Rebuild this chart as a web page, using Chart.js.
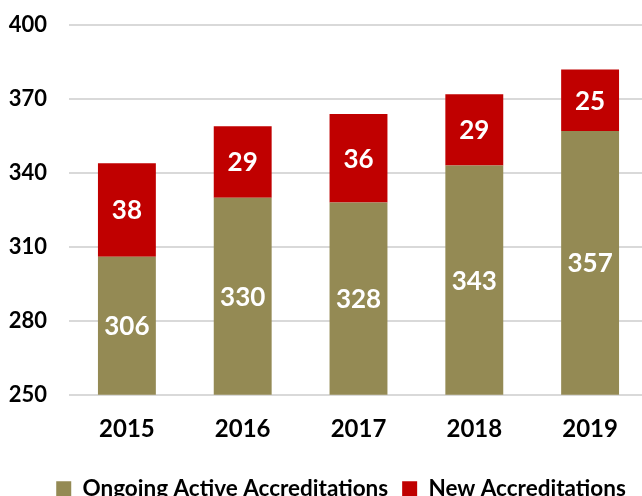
<!DOCTYPE html>
<html>
<head>
<meta charset="utf-8">
<script src="https://cdn.jsdelivr.net/npm/chart.js@4/dist/chart.umd.min.js"></script>
<style>
  html, body { margin: 0; padding: 0; background: #fff; overflow: hidden; }
  /* chart is a bit bigger than the window, the legend gets clipped at the bottom like the original */
  #wrap { width: 648px; height: 520px; margin-top: -10px; }
</style>
</head>
<body>
<div id="wrap"><canvas id="chart"></canvas></div>
<script>
// Chart data
const years = ['2015', '2016', '2017', '2018', '2019'];
const ongoingActive = [306, 330, 328, 343, 357];
const newAccreditations = [38, 29, 36, 29, 25];
const yTicks = [250, 280, 310, 340, 370, 400];

const FONT = 'Lato';

// Draw white value labels in the middle of each bar segment
const barValueLabels = {
  id: 'barValueLabels',
  afterDatasetsDraw(chart) {
    const ctx = chart.ctx;
    const bottom = chart.chartArea.bottom;
    ctx.save();
    ctx.font = 'bold 26px ' + FONT;
    ctx.fillStyle = '#fff';
    ctx.textAlign = 'center';
    ctx.textBaseline = 'middle';
    chart.data.datasets.forEach((ds, i) => {
      chart.getDatasetMeta(i).data.forEach((bar, j) => {
        const base = Math.min(bar.base, bottom);
        const mid = (bar.y + base) / 2;
        ctx.fillText(ds.data[j], bar.x, mid + 1);
      });
    });
    ctx.restore();
  }
};

// nudge the legend a little to the right, like the original
const legendShift = {
  id: 'legendShift',
  afterLayout(chart) {
    if (chart.legend) {
      chart.legend.left += 17;
      chart.legend.right += 17;
    }
  }
};

new Chart(document.getElementById('chart'), {
  type: 'bar',
  data: {
    labels: years,
    datasets: [
      {
        label: 'Ongoing Active Accreditations',
        data: ongoingActive,
        backgroundColor: '#948A54'
      },
      {
        label: 'New Accreditations',
        data: newAccreditations,
        backgroundColor: '#C00000'
      }
    ]
  },
  options: {
    responsive: true,
    maintainAspectRatio: false,
    animation: false,
    layout: { autoPadding: false, padding: { top: 15, left: 0, right: 0, bottom: 0 } },
    datasets: {
      bar: { categoryPercentage: 1, barPercentage: 0.5 }
    },
    scales: {
      x: {
        stacked: true,
        grid: { display: false, drawTicks: false },
        border: { display: false },
        ticks: {
          color: '#000',
          padding: 20,
          font: { family: FONT, size: 24, weight: 'bold' }
        }
      },
      y: {
        stacked: true,
        min: 250,
        max: 400,
        afterBuildTicks(axis) {
          axis.ticks = yTicks.map(v => ({ value: v }));
        },
        afterFit(axis) {
          axis.width = 69;
        },
        grid: { color: '#d9d9d9', lineWidth: 2, drawTicks: false },
        border: { display: false },
        ticks: {
          color: '#000',
          padding: 22,
          font: { family: FONT, size: 22, weight: 'bold' }
        }
      }
    },
    plugins: {
      tooltip: { enabled: false },
      legend: {
        position: 'bottom',
        labels: {
          color: '#000',
          boxWidth: 15,
          boxHeight: 15,
          padding: 14,
          font: { family: FONT, size: 22.5, weight: 'bold' }
        }
      }
    }
  },
  plugins: [barValueLabels, legendShift]
});
</script>
</body>
</html>
